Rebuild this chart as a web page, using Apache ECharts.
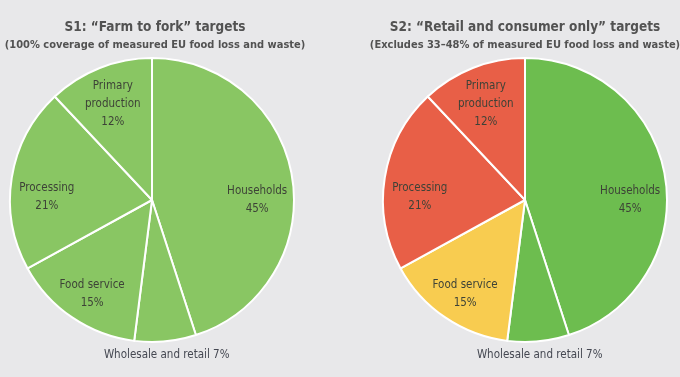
<!DOCTYPE html>
<html>
<head>
<meta charset="utf-8">
<script src="https://cdn.jsdelivr.net/npm/echarts@6/dist/echarts.min.js"></script>
<style>
  html, body { margin: 0; padding: 0; background: #e8e8ea; }
  #chart { width: 680px; height: 377px; }
</style>
</head>
<body>
<div id="chart"></div>
<script>
// slices, clockwise from 12 o'clock
const sectors = ['Households', 'Wholesale and retail', 'Food service', 'Processing', 'Primary production'];
const shares = [45, 7, 15, 21, 12];
const sectorLabels = ['Households', 'Wholesale and retail', 'Food service', 'Processing', 'Primary\nproduction'];
const titlesS1 = ['S1: \u201cFarm to fork\u201d targets', '(100% coverage of measured EU food loss and waste)'];
const titlesS2 = ['S2: \u201cRetail and consumer only\u201d targets', '(Excludes 33\u201348% of measured EU food loss and waste)'];

// colours
const G1 = '#89c663';
const G2 = '#6dbd4f';
const RED = '#e85f47';
const YEL = '#f8cc50';
const colorsS1 = [G1, G1, G1, G1, G1];
const colorsS2 = [G2, G2, YEL, RED, RED];

// condensed face of DejaVu Sans via the font-stretch keyword in the canvas font string
const FONT = '"DejaVu Sans", sans-serif';
const STRETCH = 'condensed';
const TXT = '#3d4237';
const R = 142;
// small downward nudges of the inner labels, as in the original layout
const LABEL_DY = [17, 0, 6, 14, 3];

const chart = echarts.init(document.getElementById('chart'));

function pieSeries(cx, colors) {
  const base = { type: 'pie', center: [cx, 200], startAngle: 90, clockwise: true, silent: true, animation: false };
  const lbl = { color: TXT, fontFamily: FONT, fontStyle: STRETCH, fontSize: 11.5 };
  return [
    // slices
    {
      ...base, radius: [0, R],
      itemStyle: { borderColor: '#ffffff', borderWidth: 2 },
      label: { show: false }, labelLine: { show: false },
      data: sectors.map((s, i) => ({ name: s, value: shares[i], itemStyle: { color: colors[i] } })),
    },
    // inner labels, pushed out to ~0.73 r
    {
      ...base, radius: [65, R],
      itemStyle: { color: 'transparent' },
      labelLine: { show: false },
      label: {
        ...lbl, position: 'inside', lineHeight: 18,
        formatter: p => sectorLabels[p.dataIndex] + '\n' + shares[p.dataIndex] + '%',
      },
      labelLayout: p => ({ dy: LABEL_DY[p.dataIndex] }),
      data: sectors.map((s, i) => ({ name: s, value: shares[i], label: { show: i !== 1 } })),
    },
    // the small slice's label sits just under the pie
    {
      ...base, radius: [R, 164],
      itemStyle: { color: 'transparent' },
      labelLine: { show: false },
      label: {
        ...lbl, position: 'inside', color: '#454852',
        formatter: p => sectorLabels[p.dataIndex] + ' ' + shares[p.dataIndex] + '%',
      },
      data: sectors.map((s, i) => ({ name: s, value: shares[i], label: { show: i === 1 } })),
    },
  ];
}

const titleText = t => '{a|' + t[0] + '}\n{b|' + t[1] + '}';
const titleStyle = {
  color: '#525252', fontFamily: FONT, fontStyle: STRETCH, fontWeight: 'bold',
  rich: {
    a: { fontFamily: FONT, fontStyle: STRETCH, fontWeight: 'bold', fontSize: 13.5, color: '#525252', lineHeight: 18, align: 'center' },
    b: { fontFamily: FONT, fontStyle: STRETCH, fontWeight: 'bold', fontSize: 11, color: '#525252', lineHeight: 18, align: 'center' },
  },
};

chart.setOption({
  backgroundColor: '#e8e8ea',
  title: [
    { text: titleText(titlesS1), left: 150, top: 13, textAlign: 'center', textStyle: titleStyle },
    { text: titleText(titlesS2), left: 520, top: 13, textAlign: 'center', textStyle: titleStyle },
  ],
  series: [...pieSeries(152, colorsS1), ...pieSeries(525, colorsS2)],
});
</script>
</body>
</html>
